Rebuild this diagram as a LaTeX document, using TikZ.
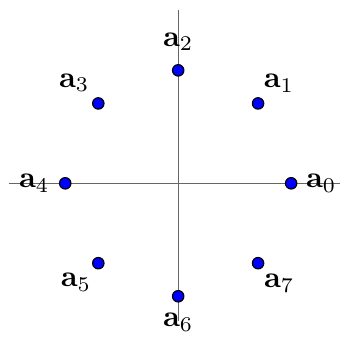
\documentclass[tikz,border=0pt]{standalone}
\begin{document}
\begin{tikzpicture}[line width=0.4pt]
  \tikzset{root/.style={circle, draw=black, fill=blue, inner sep=0pt, minimum size=3.8pt},
           rootlabel/.style={inner sep=0pt}}
  \useasboundingbox (-2.09,-1.92) rectangle (1.93,2.15);
  \draw[black!60] (-1.99,0) -- (1.90,0);
  \draw[black!60] (0,-1.61) -- (0,2.03);
  \foreach \k/\anc/\dx/\dy in {0/west/4.8/0, 1/south west/1.7/3.6, 2/south/0/6.4,
                               3/south east/-2.8/3.7, 4/east/-5.1/0, 5/north east/-2.2/-3.3,
                               6/north/0/-5.6, 7/north west/1.8/-3.5}
  {
    \node[root] (a\k) at (45*\k:1.325) {};
    \node[rootlabel, anchor=\anc] (l\k) at ([shift={(\dx pt,\dy pt)}]a\k.center) {$\mathbf{a}_{\k}$};
  }
\end{tikzpicture}
\end{document}
